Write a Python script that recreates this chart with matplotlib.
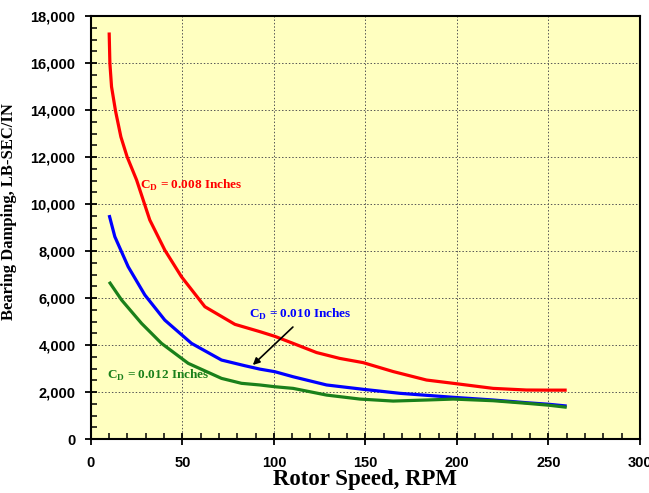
import matplotlib
matplotlib.use("Agg")
import matplotlib.pyplot as plt
from matplotlib.ticker import MultipleLocator, FuncFormatter

rpm_red = [10, 10.4, 11.3, 13.5, 16.4, 19.8, 25, 28.6, 32.2, 40.4, 49.5, 62.3, 78.7, 92.3, 100.5,
           110.5, 123.3, 136, 148.8, 165.2, 183.4, 198, 219.8, 238, 250, 260]
damp_red = [17300, 15985, 14990, 13950, 12860, 12010, 11020, 10170, 9320, 8040, 6906, 5630, 4880, 4570, 4370,
            4070, 3680, 3430, 3250, 2870, 2510, 2370, 2155, 2085, 2080, 2080]

rpm_blue = [10, 13.1, 20.4, 29.5, 40.4, 55, 71.4, 84.1, 92.3, 100.5, 110.5, 128.8, 148.8, 168.8,
            198, 219.8, 238, 250, 260]
damp_blue = [9530, 8610, 7330, 6130, 5060, 4070, 3360, 3120, 2975, 2865, 2650, 2300, 2115, 1945,
             1775, 1660, 1545, 1480, 1404]

rpm_green = [10, 16.8, 27.7, 38.6, 53.2, 71.4, 82.3, 92.3, 100.5, 110.5, 128.8, 147, 165.2, 183.4,
             198, 219.8, 238, 250, 260]
damp_green = [6690, 5915, 4920, 4070, 3220, 2580, 2370, 2300, 2225, 2155, 1870, 1700, 1615, 1660,
              1700, 1630, 1520, 1440, 1350]

plt.rcParams["font.family"] = "Liberation Sans"
plt.rcParams["font.weight"] = "bold"

fig = plt.figure(figsize=(6.49, 4.93), dpi=100)
ax = fig.add_axes([0.140, 0.1095, 0.846, 0.858])
ax.set_facecolor("#FFFFC0")

ax.plot(rpm_red, damp_red, color="#FF0000", lw=2.3, solid_capstyle="butt", solid_joinstyle="round")
ax.plot(rpm_blue, damp_blue, color="#0000FF", lw=2.3, solid_capstyle="butt", solid_joinstyle="round")
ax.plot(rpm_green, damp_green, color="#1A801A", lw=2.3, solid_capstyle="butt", solid_joinstyle="round")

ax.set_xlim(0, 300)
ax.set_ylim(0, 18000)
ax.xaxis.set_major_locator(MultipleLocator(50))
ax.xaxis.set_minor_locator(MultipleLocator(10))
ax.yaxis.set_major_locator(MultipleLocator(2000))
ax.yaxis.set_minor_locator(MultipleLocator(500))
ax.yaxis.set_major_formatter(FuncFormatter(lambda v, p: f"{int(v):,}"))
ax.grid(True, which="major", color="#555555", linestyle=(0, (1.5, 2)), linewidth=0.7)
ax.tick_params(which="major", direction="inout", length=8, width=1.3, labelsize=10.5)
ax.tick_params(axis="y", which="major", pad=7)
ax.tick_params(axis="x", which="major", pad=8)
ax.tick_params(which="minor", direction="in", length=4, width=1.1)
for s in ax.spines.values():
    s.set_linewidth(1.5)

ax.set_xlabel("Rotor Speed, RPM", fontsize=16.5, fontweight="bold", family="Liberation Serif")
ax.xaxis.set_label_coords(0.5, -0.072)
ax.set_ylabel("Bearing Damping, LB-SEC/IN", fontsize=12, fontweight="bold", family="Liberation Serif")
ax.yaxis.set_label_coords(-0.135, 0.537)

tf = dict(fontsize=9.5, fontweight="bold", family="Liberation Serif", va="center", ha="left")
ax.text(26.8, 10800, r"C$_\mathregular{D}$ = 0.008 Inches", color="#FF0000", **tf)
ax.text(86.3, 5280, r"C$_\mathregular{D}$ = 0.010 Inches", color="#0000FF", **tf)
ax.text(8.7, 2720, r"C$_\mathregular{D}$ = 0.012 Inches", color="#1A801A", **tf)
ax.annotate("", xy=(88.5, 3150), xytext=(110.4, 4766),
            arrowprops=dict(arrowstyle="-|>", color="black", lw=1.2, mutation_scale=10, shrinkA=0, shrinkB=0))

fig.savefig("out.png", dpi=100)
